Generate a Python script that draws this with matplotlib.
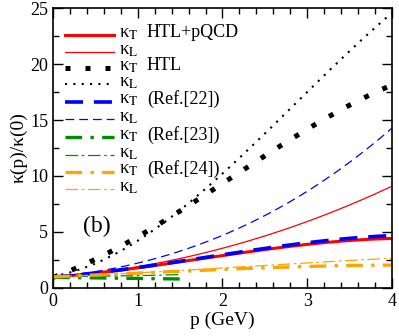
import matplotlib
matplotlib.use('Agg')
import matplotlib.pyplot as plt
import numpy as np
from matplotlib.ticker import MultipleLocator

plt.rcParams['font.family'] = ['Liberation Serif', 'DejaVu Serif']
plt.rcParams['mathtext.fontset'] = 'stix'

# momentum grid (GeV)
p = [0, 0.5, 1, 1.5, 2, 2.5, 3, 3.5, 4]
# HTL+pQCD
kT_pqcd = [1.0, 1.3, 1.75, 2.35, 2.95, 3.45, 3.85, 4.2, 4.45]
kL_pqcd = [1.0, 1.2, 1.9, 2.7, 3.6, 4.6, 5.9, 7.4, 9.1]
# HTL
kT_htl = [1.0, 2.5, 4.5, 6.9, 9.4, 11.9, 14.1, 16.2, 18.2]
kL_htl = [1.0, 2.3, 4.2, 6.9, 10.1, 13.9, 17.6, 21.0, 24.6]
# Ref.[22]
kT_22 = [1.0, 1.3, 1.8, 2.4, 3.0, 3.55, 4.0, 4.4, 4.7]
kL_22 = [1.0, 1.4, 2.2, 3.3, 4.7, 6.6, 8.5, 11.2, 14.3]
# Ref.[23] (only up to 1.5 GeV)
p23 = [0, 0.5, 1, 1.5]
kT_23 = [0.95, 0.9, 0.85, 0.8]
kL_23 = [1.0, 1.05, 1.1, 1.2]
# Ref.[24]
kT_24 = [1.0, 1.15, 1.3, 1.5, 1.7, 1.8, 1.9, 2.0, 2.05]
kL_24 = [1.0, 1.15, 1.35, 1.55, 1.8, 2.0, 2.25, 2.45, 2.65]

green = '#008c00'
orange = '#ffa500'
styles = [
    (p, kT_pqcd, dict(color='red', lw=2.2)),
    (p, kL_pqcd, dict(color='red', lw=0.9)),
    (p, kT_htl, dict(color='black', lw=3.6, ls=(0, (1, 3)), dash_capstyle='butt')),
    (p, kL_htl, dict(color='black', lw=1.5, ls=(0, (1, 3)), dash_capstyle='butt')),
    (p, kT_22, dict(color='blue', lw=2.6, ls=(0, (5, 3)))),
    (p, kL_22, dict(color='blue', lw=0.9, ls=(0, (7, 4)))),
    (p23, kT_23, dict(color=green, lw=2.4, ls=(0, (5, 2.5, 1, 2.5)))),
    (p23, kL_23, dict(color=green, lw=0.9, ls=(0, (10, 3, 2, 3)))),
    (p, kT_24, dict(color=orange, lw=2.4, ls=(0, (5, 2.5, 1, 2.5)))),
    (p, kL_24, dict(color=orange, lw=0.9, ls=(0, (10, 3, 2, 3)))),
]
labels = [r'κ$_\mathrm{T}$', r'κ$_\mathrm{L}$'] * 5
extra = ['HTL+pQCD', None, 'HTL', None, '(Ref.[22])', None, '(Ref.[23])', None, '(Ref.[24])', None]

fig = plt.figure(figsize=(3.99, 3.36), dpi=100)
ax = fig.add_axes([0.133, 0.143, 0.849, 0.833])

for x, y, st in styles:
    xs = np.linspace(x[0], x[-1], 200)
    c = np.polyfit(x, y, 3)
    ax.plot(xs, np.polyval(c, xs), **st)

# hand-made legend
ly = [0.904, 0.843, 0.786, 0.727, 0.666, 0.604, 0.54, 0.476, 0.416, 0.354]
for i, (x, y, st) in enumerate(styles):
    ax.plot([0.035, 0.18], [ly[i], ly[i]], transform=ax.transAxes, **st)
    ax.text(0.195, ly[i] + 0.006, labels[i], transform=ax.transAxes, fontsize=13.5, va='center')
    if extra[i]:
        ax.text(0.277, ly[i] + 0.008, extra[i], transform=ax.transAxes, fontsize=13, va='center')

ax.text(0.088, 0.22, '(b)', transform=ax.transAxes, fontsize=17, va='center')

ax.set_xlim(0, 4)
ax.set_ylim(0, 25)
ax.xaxis.set_major_locator(MultipleLocator(1))
ax.xaxis.set_minor_locator(MultipleLocator(0.2))
ax.yaxis.set_major_locator(MultipleLocator(5))
ax.yaxis.set_minor_locator(MultipleLocator(2.5))
ax.tick_params(which='both', direction='in', top=True, right=True, labelsize=13, width=1)
ax.tick_params(which='major', length=7)
ax.tick_params(which='minor', length=4)
for s in ax.spines.values():
    s.set_linewidth(1.2)
ax.set_xlabel('p (GeV)', fontsize=14, labelpad=1)
ax.set_ylabel('κ(p)/κ(0)', fontsize=14, labelpad=2)

fig.savefig('out.png', dpi=100)
